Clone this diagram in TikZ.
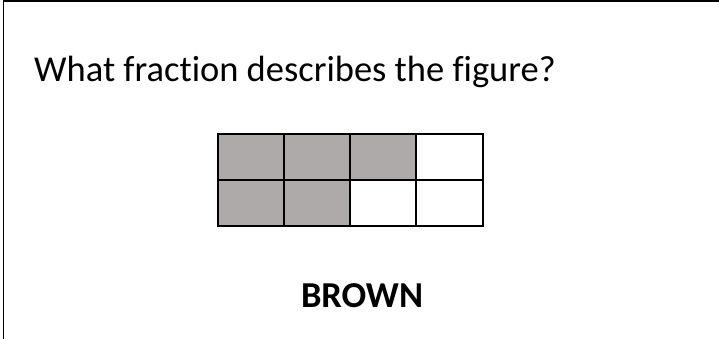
\documentclass[tikz,border=0pt]{standalone}
\usepackage{fontspec}
\setmainfont{Carlito}[Ligatures=CommonOff]
\definecolor{cellgray}{HTML}{AEAAAA}
\tikzset{
  cellbox/.style={draw=black, line width=2pt},
  bigtext/.style={font=\fontsize{36.5}{44}\selectfont, inner sep=0pt}
}
\begin{document}
\begin{tikzpicture}[x=1pt,y=-1pt]
        \useasboundingbox (0,0) rectangle (719,339);
        % slide frame, only top and left edges show
        \draw[line width=1.5pt] (3.5,339) -- (3.5,0.8) -- (719,0.8);
        \node[bigtext, anchor=base west] (question) at (34,82) {What fraction describes the figure?};
        % 4 x 2 grid, 5 parts shaded
        \foreach \c/\r/\f in {0/0/cellgray,1/0/cellgray,2/0/cellgray,3/0/white,0/1/cellgray,1/1/cellgray,2/1/white,3/1/white}
            \draw[cellbox, fill=\f] (217.5+66.25*\c,134+46*\r) rectangle ++(66.25,46);
        \node[bigtext, font=\fontsize{36.5}{44}\selectfont\bfseries, anchor=base] (answer) at (362,307) {BROWN};
    \end{tikzpicture}
\end{document}
